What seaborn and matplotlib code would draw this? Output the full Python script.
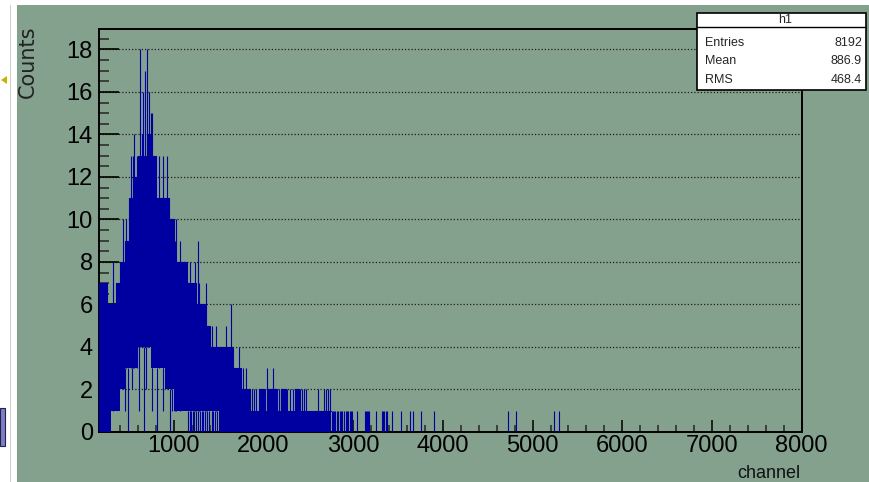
import matplotlib
matplotlib.use('Agg')
import matplotlib.pyplot as plt
import seaborn as sns
import numpy as np
from matplotlib.patches import Rectangle, Polygon
from matplotlib.lines import Line2D
from matplotlib.ticker import MultipleLocator

# histogram h1 in 50-channel blocks
block_start = list(range(150, 2750, 50))
block_hi = [7, 7, 6, 6, 7, 8, 9, 11, 12, 13, 13, 14,
            13, 11, 11, 11, 10, 8, 8, 8, 7, 7,
            6, 6, 5, 4, 4, 4, 4, 4, 3, 3,
            2, 2, 1, 1, 2, 1, 2, 2, 1, 2,
            1, 1, 2, 1, 1, 1, 1, 1, 1, 1]
block_lo = [0, 0, 0, 1, 1, 2, 3, 3, 3, 4, 4, 4,
            3, 3, 3, 2, 2, 1, 1, 1, 1, 1,
            1, 1, 1, 1, 1, 0, 0, 0, 0, 0,
            0, 0, 0, 0, 0, 0, 0, 0, 0, 0,
            0, 0, 0, 0, 0, 0, 0, 0, 0, 0]

# single bins sticking out above the block top
spike_ch = [325, 430, 470, 520, 540, 560, 585, 625, 645, 655, 680, 705, 720, 745, 760,
            835, 880, 920, 1010, 1025, 1065, 1180, 1240, 1268, 1285, 1360, 1420, 1470,
            1580, 1639, 1660, 1730, 1770, 1805, 1870, 1890, 1920, 2015, 2037, 2100,
            2170, 2190, 2260, 2300, 2330, 2410, 2430, 2450, 2470, 2605, 2675, 2695,
            2720, 2745]
spike_n = [8, 10, 10, 13, 13, 14, 13, 18, 14, 16, 17, 18, 16, 15, 15,
           13, 13, 13, 9, 10, 9, 8, 8, 9, 7, 7, 5, 5,
           5, 6, 4, 4, 3, 3, 2, 2, 2, 2, 3, 3,
           2, 2, 2, 2, 2, 2, 2, 2, 2, 2, 2, 2,
           2, 2]

# low bins reaching below the block bottom
dip_ch = [453, 484, 539, 613, 665, 695, 751, 807, 874, 903, 955, 974,
          1160, 1175, 1190, 1210, 1225, 1250, 1270, 1290, 1310, 1330, 1350,
          1375, 1395, 1420, 1440, 1460, 1480]
dip_n = [1, 0, 2, 1, 0, 2, 1, 0, 1, 2, 0, 1,
         0, 0, 0, 0, 0, 0, 0, 0, 0, 0, 0,
         0, 0, 0, 0, 0, 0]

# sparse tail, one count each
tail_ch = [2760, 2775, 2790, 2800, 2815, 2830, 2850, 2865, 2880, 2900, 2915, 2930,
           2945, 2960, 2975, 2990, 3044, 3130, 3140, 3150, 3160, 3175, 3252, 3316,
           3330, 3345, 3360, 3372, 3434, 3531, 3631, 3668, 3751, 3903, 4728, 4813,
           5240, 5296]

stat_names = ['Entries', 'Mean', 'RMS']
stat_values = ['8192', '886.9', '468.4']

W, H = 869, 482
BG = '#84a18e'
BLUE = '#0000a0'
SANS = ['Liberation Sans', 'DejaVu Sans']

sns.set_style('ticks')
plt.rcParams['font.family'] = SANS

fig = plt.figure(figsize=(W / 100, H / 100), dpi=100, facecolor=BG)
ax = fig.add_axes([98.5 / W, 1 - 432 / H, (801.7 - 98.5) / W, (432 - 29.3) / H])
ax.set_facecolor(BG)

edges = block_start + [block_start[-1] + 50]
hi_ext = block_hi + [block_hi[-1]]
lo_ext = block_lo + [block_lo[-1]]
ax.fill_between(edges, lo_ext, hi_ext, step='post', color=BLUE, lw=0, zorder=3)
sns.lineplot(x=edges, y=hi_ext, drawstyle='steps-post', color=BLUE, lw=0.8,
             ax=ax, zorder=3)


def block_value(ch, vals):
    i = min(max((ch - block_start[0]) // 50, 0), len(vals) - 1)
    return vals[i]


ax.vlines(spike_ch, [block_value(c, block_lo) for c in spike_ch], spike_n,
          color=BLUE, lw=0.8, zorder=3)
ax.vlines(dip_ch, dip_n, [block_value(c, block_lo) for c in dip_ch],
          color=BLUE, lw=0.8, zorder=3)
ax.vlines(tail_ch, 0, 1, color=BLUE, lw=0.8, zorder=3)

ax.set_xlim(160, 8000)
ax.set_ylim(0, 18.95)
ax.xaxis.set_major_locator(MultipleLocator(1000))
ax.xaxis.set_minor_locator(MultipleLocator(200))
ax.yaxis.set_major_locator(MultipleLocator(2))
ax.yaxis.set_minor_locator(MultipleLocator(0.5))
ax.tick_params(axis='x', which='major', direction='in', length=8.6, width=1.1,
               pad=2, labelsize=17, colors='black', top=False)
ax.tick_params(axis='x', which='minor', direction='in', length=5, width=1.1, top=False)
ax.tick_params(axis='y', which='major', direction='in', length=14.4, width=1.2,
               pad=4, labelsize=17, colors='black', right=False)
ax.tick_params(axis='y', which='minor', direction='in', length=7.2, width=1.1, right=False)
ax.set_xticklabels([f'{int(v)}' if v >= 1000 else '' for v in ax.get_xticks()])
ax.grid(axis='y', which='major', color='#1e1e1e', linestyle=(0, (1, 1.6)), lw=0.9)
ax.grid(axis='x', visible=False)
ax.set_axisbelow(True)
for s in ax.spines.values():
    s.set_color('black')
    s.set_linewidth(1.4)
ax.set_xlabel('')
ax.set_ylabel('')

fig.text(800 / W, 1 - 474 / H, 'channel', ha='right', va='center', fontsize=13,
         color='#111111')
fig.text(27.5 / W, 1 - 26 / H, 'Counts', rotation=90, ha='center', va='top',
         fontsize=15, family=['DejaVu Sans'], color='#222222')

# stats box
fig.patches.append(Rectangle((697 / W, 1 - 90 / H), (866 - 697) / W, (90 - 13) / H,
                             transform=fig.transFigure, fc='white', ec='black',
                             lw=1.2, zorder=5))
fig.add_artist(Line2D([697 / W, 866 / W], [1 - 27 / H, 1 - 27 / H], color='black',
                      lw=1.0, zorder=6))
fig.text(785 / W, 1 - 20 / H, 'h1', ha='center', va='center', fontsize=9, zorder=7)
for i, (name, val) in enumerate(zip(stat_names, stat_values)):
    y = 1 - (42.5 + i * 18.8) / H
    fig.text(705 / W, y, name, ha='left', va='center', fontsize=9, zorder=7)
    fig.text(862 / W, y, val, ha='right', va='center', fontsize=9, zorder=7)

# white strip of the surrounding window
fig.patches.append(Rectangle((0, 0), 17 / W, 1, transform=fig.transFigure,
                             fc='white', ec='none', zorder=4))
fig.patches.append(Rectangle((0, 1 - 5 / H), 1, 5 / H, transform=fig.transFigure,
                             fc='white', ec='none', zorder=4))
fig.add_artist(Line2D([9.5 / W, 9.5 / W], [0, 1 - 5 / H], color='#d0d0d0', lw=0.8, zorder=5))
fig.patches.append(Polygon([(1 / W, 1 - 80 / H), (7 / W, 1 - 76 / H), (7 / W, 1 - 84 / H)],
                           closed=True, transform=fig.transFigure, fc='#c8b400',
                           ec='none', zorder=5))
fig.patches.append(Rectangle((0, 1 - 446 / H), 5 / W, 38 / H, transform=fig.transFigure,
                             fc='#7d7dc8', ec='#222244', lw=0.8, zorder=5))

fig.savefig('out.png', dpi=100, facecolor=BG)
